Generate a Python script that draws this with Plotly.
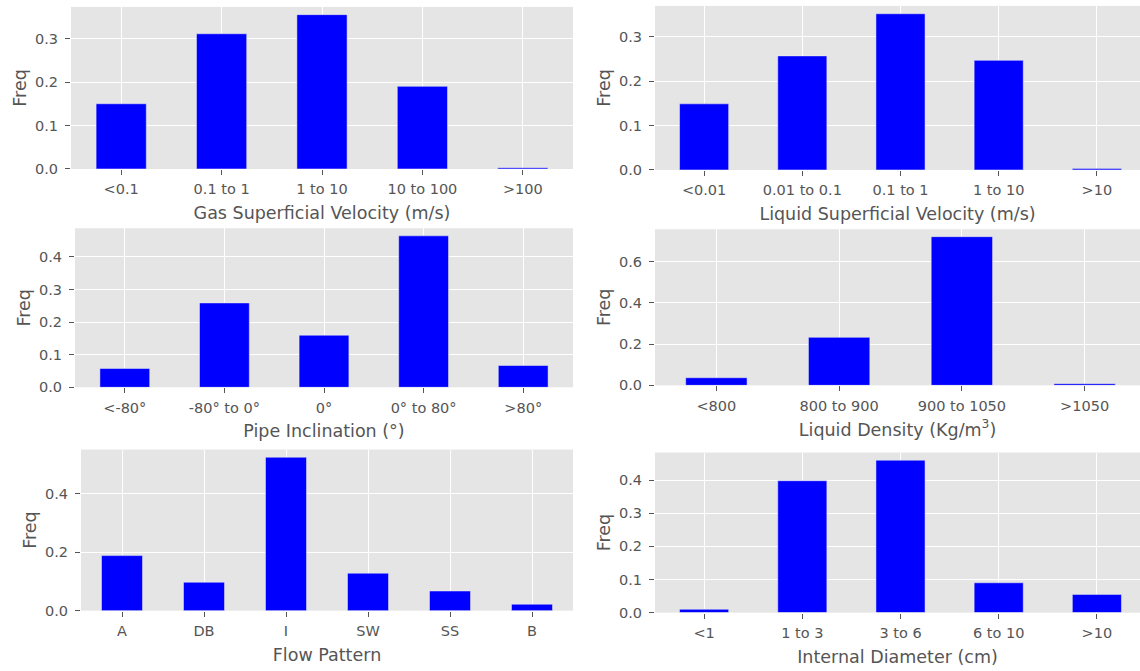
import plotly.graph_objects as go

# ---------------- data ----------------
gas_cats = ["<0.1", "0.1 to 1", "1 to 10", "10 to 100", ">100"]
gas_freq = [0.150, 0.311, 0.355, 0.190, 0.003]

liq_cats = ["<0.01", "0.01 to 0.1", "0.1 to 1", "1 to 10", ">10"]
liq_freq = [0.149, 0.257, 0.352, 0.247, 0.003]

incl_cats = ["<-80°", "-80° to 0°", "0°", "0° to 80°", ">80°"]
incl_freq = [0.058, 0.259, 0.160, 0.465, 0.067]

dens_cats = ["<800", "800 to 900", "900 to 1050", ">1050"]
dens_freq = [0.037, 0.233, 0.722, 0.008]

flow_cats = ["A", "DB", "I", "SW", "SS", "B"]
flow_freq = [0.188, 0.097, 0.524, 0.128, 0.067, 0.022]

diam_cats = ["<1", "1 to 3", "3 to 6", "6 to 10", ">10"]
diam_freq = [0.010, 0.398, 0.460, 0.090, 0.055]

titles = [
    "Gas Superficial Velocity (m/s)",
    "Liquid Superficial Velocity (m/s)",
    "Pipe Inclination (°)",
    "Liquid Density (Kg/m<sup>3</sup>)",
    "Flow Pattern",
    "Internal Diameter (cm)",
]
dticks = [0.1, 0.1, 0.1, 0.2, 0.2, 0.1]

# ---------------- layout geometry (pixels) ----------------
W, H = 1140, 671
RIGHT = (655, 1146)   # right column extends past the image edge (cropped)
panels = [
    # (cats, vals, (x0, x1), top, bottom)
    (gas_cats, gas_freq, (71, 573), 7, 171),
    (liq_cats, liq_freq, RIGHT, 6, 172),
    (incl_cats, incl_freq, (75, 573), 231, 392),
    (dens_cats, dens_freq, RIGHT, 232, 390),
    (flow_cats, flow_freq, (81, 573), 455, 618),
    (diam_cats, diam_freq, RIGHT, 458, 620),
]

GRAY = "#555555"
FONT = "DejaVu Sans"
TICK_SIZE = 14.5
LABEL_SIZE = 17.5

fig = go.Figure()
layout = {}
for i, (cats, vals, col, top, bottom) in enumerate(panels):
    n = i + 1
    sfx = "" if n == 1 else str(n)
    fig.add_trace(go.Bar(
        x=cats, y=vals, width=0.5,
        marker=dict(color="#0000FF", line=dict(color="#EEEEEE", width=0.5)),
        xaxis="x" + sfx, yaxis="y" + sfx, showlegend=False,
    ))
    x0, x1 = col
    ncat = len(cats)
    vis_right = min(x1, W)
    upper = -0.5 + ncat * (vis_right - x0) / (x1 - x0)
    layout["xaxis" + sfx] = dict(
        domain=[x0 / W, vis_right / W],
        anchor="y" + sfx,
        type="category",
        range=[-0.5, upper],
        showgrid=True, gridcolor="white", gridwidth=1,
        ticks="outside", ticklen=5, tickcolor=GRAY, tickwidth=1,
        ticklabelstandoff=2,
        tickfont=dict(family=FONT, size=TICK_SIZE, color=GRAY),
        title=dict(text=titles[i], font=dict(family=FONT, size=LABEL_SIZE, color=GRAY), standoff=10),
        zeroline=False, showline=False, fixedrange=True,
    )
    layout["yaxis" + sfx] = dict(
        domain=[1 - bottom / H, 1 - top / H],
        anchor="x" + sfx,
        range=[0, max(vals) * 1.05],
        dtick=dticks[i], tick0=0, tickformat=".1f",
        showgrid=True, gridcolor="white", gridwidth=1,
        ticks="outside", ticklen=5, tickcolor=GRAY, tickwidth=1,
        ticklabelstandoff=4,
        tickfont=dict(family=FONT, size=TICK_SIZE, color=GRAY),
        title=dict(text="Freq", font=dict(family=FONT, size=LABEL_SIZE, color=GRAY), standoff=3),
        zeroline=False, showline=False, fixedrange=True,
    )

fig.update_layout(
    width=W, height=H,
    margin=dict(l=0, r=0, t=0, b=0),
    paper_bgcolor="white",
    plot_bgcolor="#E5E5E5",
    font=dict(family=FONT, color=GRAY),
    bargap=0.5,
    **layout,
)

fig.write_html("out.html", config={"displayModeBar": False})
